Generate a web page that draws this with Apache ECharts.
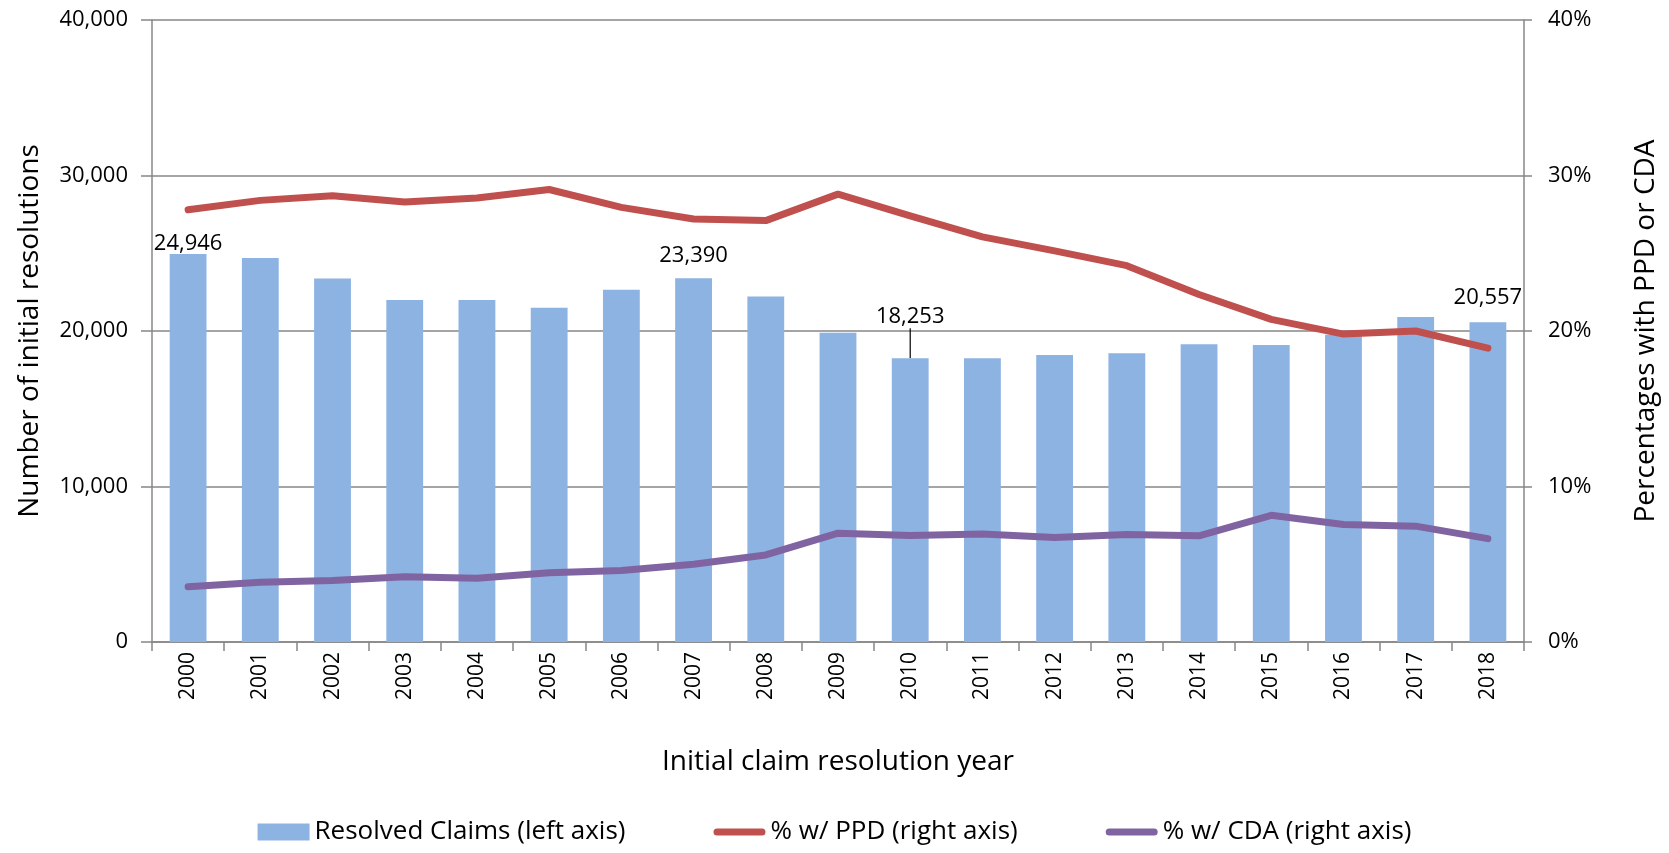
<!DOCTYPE html>
<html>
<head>
<meta charset="utf-8">
<script src="https://cdn.jsdelivr.net/npm/echarts@6/dist/echarts.min.js"></script>
<style>
  html, body { margin: 0; padding: 0; background: #fff; }
  #chart { width: 1669px; height: 853px; }
</style>
</head>
<body>
<div id="chart"></div>
<script>
const years = ['2000', '2001', '2002', '2003', '2004', '2005', '2006', '2007', '2008', '2009',
  '2010', '2011', '2012', '2013', '2014', '2015', '2016', '2017', '2018'];
const resolvedClaims = [24946, 24700, 23380, 22000, 22000, 21500, 22660, 23390, 22220, 19880,
  18253, 18250, 18450, 18570, 19140, 19100, 19760, 20900, 20557];
const pctPPD = [27.8, 28.4, 28.7, 28.3, 28.55, 29.1, 27.95, 27.2, 27.1, 28.8,
  27.4, 26.05, 25.15, 24.2, 22.35, 20.75, 19.8, 20.0, 18.9];
const pctCDA = [3.55, 3.85, 3.95, 4.2, 4.1, 4.45, 4.6, 5.0, 5.6, 7.0,
  6.85, 6.95, 6.72, 6.92, 6.83, 8.15, 7.56, 7.45, 6.65];
const leftTicks = [0, 10000, 20000, 30000, 40000];
const rightTicks = [0, 10, 20, 30, 40];
// bars that carry a value label
const labelledYears = ['2000', '2007', '2010', '2018'];

const font = '"Open Sans", sans-serif';
const gridColor = '#878787';

// thick rounded stroke for the line legend entries (tiny dots pin the 52x17 box)
const lineIcon = 'path://M0,0h0.01v0.01h-0.01z M0,16.99h0.01v0.01h-0.01z ' +
  'M3.5,5h45a3.5,3.5 0 0 1 0,7h-45a3.5,3.5 0 0 1 0,-7z';

const chart = echarts.init(document.getElementById('chart'));

// label tweaks: distance above bar, sideways offset; only 2010 gets a leader line
const labelTweak = {
  '2000': { distance: -1, offset: [0, 0], line: false },
  '2007': { distance: 12, offset: [0, 0], line: false },
  '2010': { distance: 2, offset: [0, 0], line: true },
  '2018': { distance: 14, offset: [-3, 0], line: false }
};

const barData = resolvedClaims.map((v, i) => {
  const t = labelTweak[years[i]];
  if (labelledYears.indexOf(years[i]) < 0) return v;
  return {
    value: v,
    label: {
      show: true,
      position: 'top',
      distance: t.distance,
      offset: t.offset,
      formatter: (p) => p.value.toLocaleString('en-US')
    },
    labelLine: { show: t.line }
  };
});

chart.setOption({
  animation: false,
  textStyle: { fontFamily: font },
  grid: { left: 152, right: 145, top: 20, bottom: 211 },
  legend: {
    bottom: 3,
    left: 'center',
    itemGap: 88,
    itemWidth: 52,
    itemHeight: 17,
    textStyle: { fontSize: 26, color: '#000', fontFamily: font },
    data: [
      { name: 'Resolved Claims (left axis)', icon: 'rect' },
      { name: '% w/ PPD (right axis)', icon: lineIcon },
      { name: '% w/ CDA (right axis)', icon: lineIcon }
    ]
  },
  xAxis: {
    type: 'category',
    data: years,
    name: 'Initial claim resolution year',
    nameLocation: 'middle',
    nameGap: 106,
    nameTextStyle: { fontSize: 28, color: '#000' },
    axisLine: { lineStyle: { color: gridColor, width: 1.5 } },
    axisTick: { show: true, length: 9, lineStyle: { color: gridColor, width: 1.5 } },
    axisLabel: { rotate: 90, fontSize: 21, color: '#000', margin: 10 }
  },
  yAxis: [
    {
      type: 'value',
      min: leftTicks[0],
      max: leftTicks[leftTicks.length - 1],
      interval: leftTicks[1] - leftTicks[0],
      name: 'Number of initial resolutions',
      nameLocation: 'middle',
      nameGap: 108,
      nameRotate: 90,
      nameTextStyle: { fontSize: 28, color: '#000' },
      axisLine: { show: true, lineStyle: { color: gridColor, width: 1.5 } },
      axisTick: { show: true, length: 11, lineStyle: { color: gridColor, width: 1.5 } },
      axisLabel: {
        fontSize: 22, color: '#000', margin: 24,
        formatter: (v) => v.toLocaleString('en-US')
      },
      splitLine: { show: true, lineStyle: { color: gridColor, width: 1.5 } }
    },
    {
      type: 'value',
      position: 'right',
      min: rightTicks[0],
      max: rightTicks[rightTicks.length - 1],
      interval: rightTicks[1] - rightTicks[0],
      name: 'Percentages with PPD or CDA',
      nameLocation: 'middle',
      nameGap: 108,
      nameRotate: 90,
      nameTextStyle: { fontSize: 28, color: '#000' },
      axisLine: { show: true, lineStyle: { color: gridColor, width: 1.5 } },
      axisTick: { show: true, length: 8, lineStyle: { color: gridColor, width: 1.5 } },
      axisLabel: { fontSize: 22, color: '#000', margin: 24, formatter: '{value}%' },
      splitLine: { show: false }
    }
  ],
  series: [
    {
      name: 'Resolved Claims (left axis)',
      type: 'bar',
      yAxisIndex: 0,
      barWidth: '51%',
      itemStyle: { color: '#8DB3E2' },
      label: { fontSize: 22, color: '#000' },
      labelLayout: (p) => (years[p.dataIndex] === '2010' ? { dy: -28 } : {}),
      labelLine: { lineStyle: { color: '#000', width: 1.2 } },
      data: barData
    },
    {
      name: '% w/ PPD (right axis)',
      type: 'line',
      yAxisIndex: 1,
      symbol: 'none',
      lineStyle: { color: '#C0504D', width: 7, cap: 'round', join: 'round' },
      itemStyle: { color: '#C0504D' },
      data: pctPPD
    },
    {
      name: '% w/ CDA (right axis)',
      type: 'line',
      yAxisIndex: 1,
      symbol: 'none',
      lineStyle: { color: '#8064A2', width: 7, cap: 'round', join: 'round' },
      itemStyle: { color: '#8064A2' },
      data: pctCDA
    }
  ]
});
</script>
</body>
</html>
